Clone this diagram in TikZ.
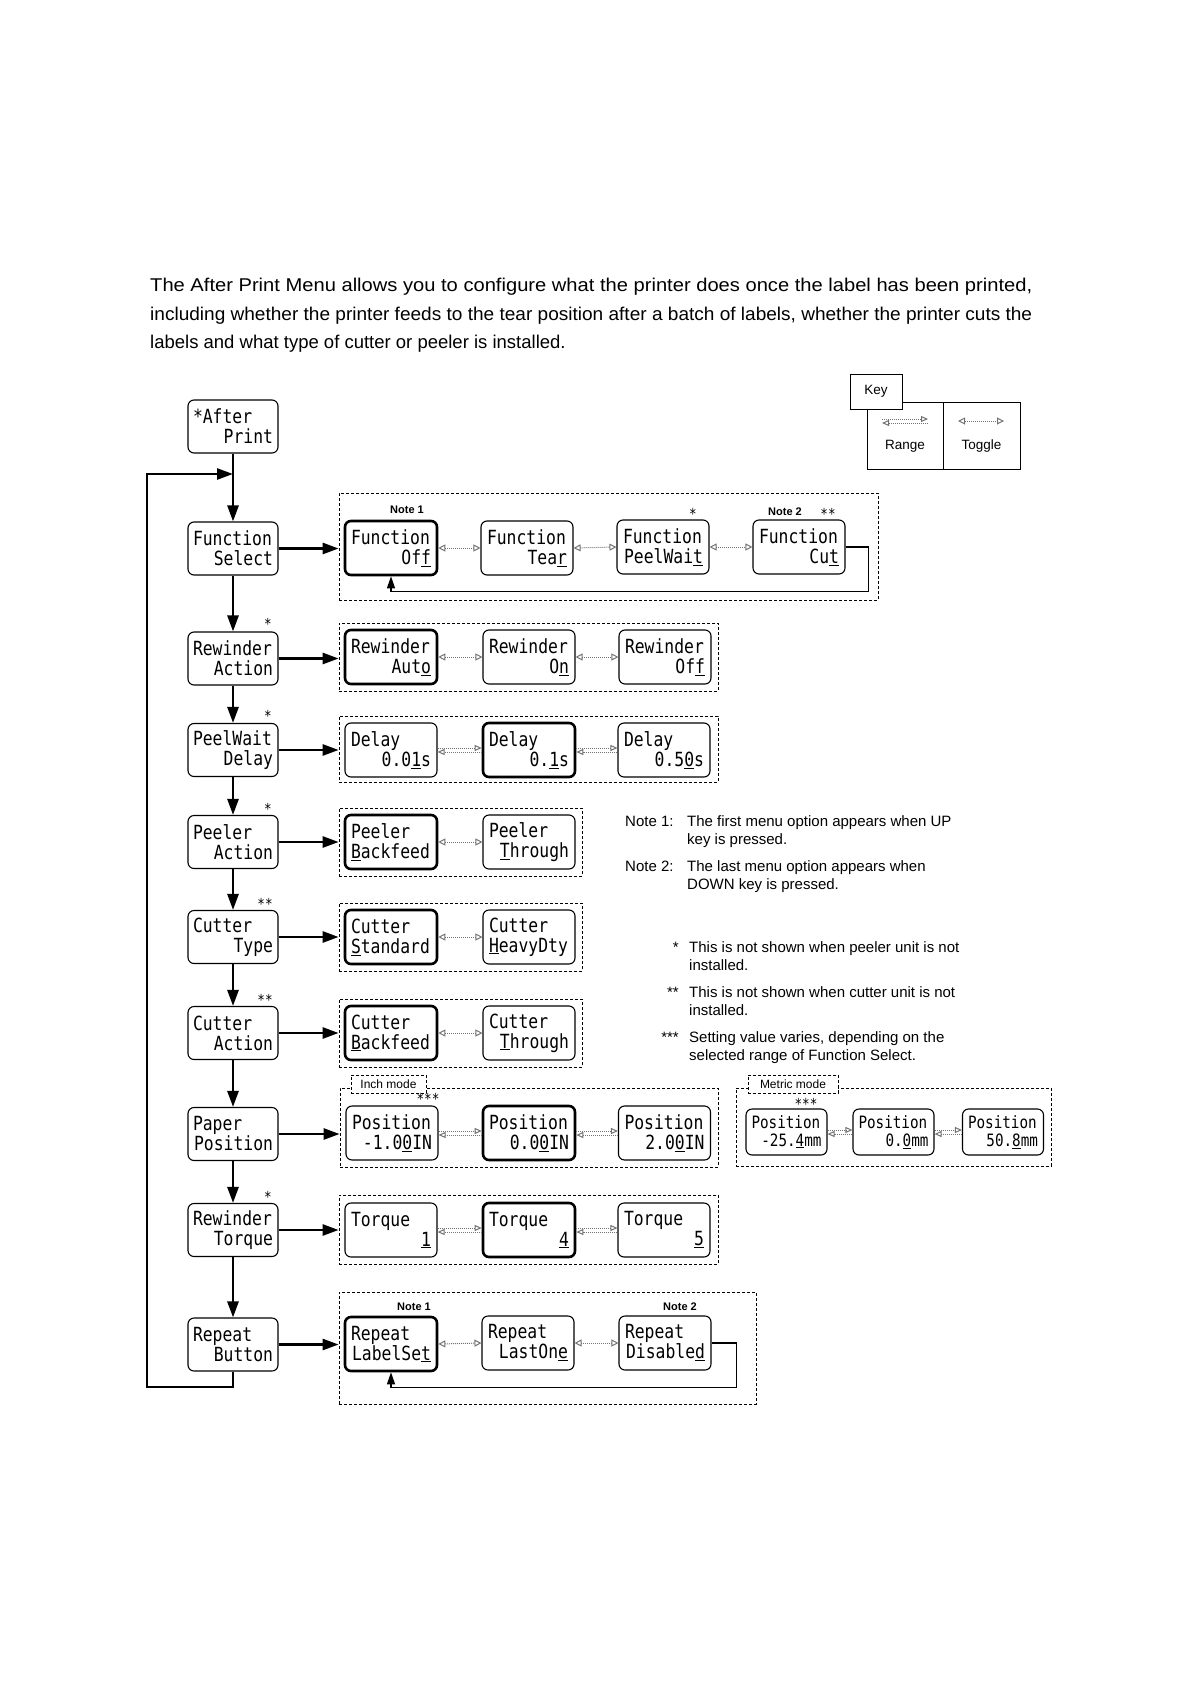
\documentclass[tikz,border=0pt]{standalone}
\usepackage{fontspec}
\setmainfont{Liberation Sans}
\newfontfamily\lcdfont[FakeStretch=0.84]{DejaVu Sans Mono}
\usepackage{graphicx}
\usetikzlibrary{arrows.meta,positioning,calc}

% two display lines: first flush left, second flush right
\newcommand{\lcd}[2]{#1\\\hspace*{0pt plus 1filll}#2}
% range connector: one way on top, the other way below
\newcommand{\rangelink}[2]{%
  \draw[rangeway] ([yshift=2pt]#1.east) -- ([yshift=2pt]#2.west);
  \draw[rangeway] ([yshift=-2pt]#2.west) -- ([yshift=-2pt]#1.east);}

\begin{document}
\begin{tikzpicture}[x=1pt, y=-1pt,
    menu/.style={rectangle, draw, rounded corners=6pt, line width=1.1pt, minimum width=90pt, minimum height=53pt, text width=80pt, inner xsep=5pt, inner ysep=2pt, align=left, font=\lcdfont\fontsize{19.5}{20}\selectfont},
    option/.style={menu, minimum width=92pt, minimum height=54pt, text width=80pt, inner xsep=6pt},
    current/.style={option, line width=2.6pt},
    metric/.style={option, minimum width=81pt, minimum height=46pt, text width=70pt, inner xsep=5.5pt, font=\lcdfont\fontsize{17}{17.5}\selectfont},
    group/.style={rectangle, draw, dash pattern=on 3pt off 2pt, line width=0.7pt, inner sep=0pt},
    modetab/.style={group, fill=white, minimum height=18pt, font=\fontsize{12}{14}\selectfont},
    flow/.style={-{Triangle[length=16pt,width=11pt]}, line width=2.6pt},
    back/.style={-{Triangle[length=12pt,width=8pt]}, line width=1.3pt},
    toggle/.style={{Triangle[open,length=7pt,width=7pt]}-{Triangle[open,length=7pt,width=7pt]}, draw=black!55, densely dotted, line width=1pt},
    rangeway/.style={-{Triangle[open,length=7pt,width=6pt]}, draw=black!55, densely dotted, line width=1pt},
    notelbl/.style={font=\bfseries\fontsize{11}{13}\selectfont, inner sep=0pt},
    starlbl/.style={font=\lcdfont\fontsize{15}{15}\selectfont, inner sep=0pt},
    body/.style={anchor=base west, inner sep=0pt, font=\fontsize{15}{18}\selectfont},
    keybox/.style={rectangle, draw, line width=1pt, inner sep=0pt}
]
    \useasboundingbox (0,0) rectangle (1191,1685);

    % Intro
    \node[anchor=base west, inner sep=0pt, font=\fontsize{18.5}{22}\selectfont] (intro1) at (150,291) {\resizebox{882pt}{\height}{The After Print Menu allows you to configure what the printer does once the label has been printed,}};
    \node[anchor=base west, inner sep=0pt, font=\fontsize{18.5}{22}\selectfont] (intro2) at (150,320) {\resizebox{882pt}{\height}{including whether the printer feeds to the tear position after a batch of labels, whether the printer cuts the}};
    \node[anchor=base west, inner sep=0pt, font=\fontsize{18.5}{22}\selectfont] (intro3) at (150,348) {labels and what type of cutter or peeler is installed.};

    % Key
    \node[keybox, minimum width=76pt, minimum height=67pt] (kRange) at (905,435.5) {};
    \node[keybox, minimum width=77pt, minimum height=67pt] (kToggle) at (981.5,435.5) {};
    \node[keybox, fill=white, minimum width=52pt, minimum height=35pt, font=\fontsize{13.5}{16}\selectfont] (kTab) at (876,391.5) {Key};
    \node[font=\fontsize{13.5}{16}\selectfont] (kRangeTxt) at (905,446) {Range};
    \node[font=\fontsize{13.5}{16}\selectfont] (kToggleTxt) at (981.5,446) {Toggle};
    \coordinate (kr1) at (882,421);
    \coordinate (kr2) at (928,421);
    \coordinate (kt1) at (958,421);
    \coordinate (kt2) at (1004,421);
    \draw[rangeway] ([yshift=2pt]kr1) -- ([yshift=2pt]kr2);
    \draw[rangeway] ([yshift=-2pt]kr2) -- ([yshift=-2pt]kr1);
    \draw[toggle] (kt1) -- (kt2);

    % Main menu column
    \node[menu] (mAfter) at (233,426.5) {\lcd{*After}{Print}};
    \node[menu] (mFunc) at (233,548.5) {\lcd{Function}{Select}};
    \node[menu] (mRewA) at (233,658.5) {\lcd{Rewinder}{Action}};
    \node[menu] (mPeelD) at (233,750) {\lcd{PeelWait}{Delay}};
    \node[menu] (mPeelA) at (233,842) {\lcd{Peeler}{Action}};
    \node[menu] (mCutT) at (233,937) {\lcd{Cutter}{Type}};
    \node[menu] (mCutA) at (233,1033) {\lcd{Cutter}{Action}};
    \node[menu] (mPaper) at (233,1134) {\lcd{Paper}{Position}};
    \node[menu] (mRewT) at (233,1230) {\lcd{Rewinder}{Torque}};
    \node[menu] (mRepeat) at (233,1344.5) {\lcd{Repeat}{Button}};

    \node[starlbl] (sRewA) at (268,624) {*};
    \node[starlbl] (sPeelD) at (268,716) {*};
    \node[starlbl] (sPeelA) at (268,809) {*};
    \node[starlbl] (sCutT) at (265,904) {**};
    \node[starlbl] (sCutA) at (265,1000) {**};
    \node[starlbl] (sRewT) at (268,1197) {*};

    % Dashed groups
    \node[group, minimum width=539pt, minimum height=107pt] (gF) at (608.5,546.5) {};
    \node[group, minimum width=379pt, minimum height=68pt] (gR) at (528.5,657) {};
    \node[group, minimum width=379pt, minimum height=66pt] (gD) at (528.5,749) {};
    \node[group, minimum width=243pt, minimum height=68pt] (gP) at (460.5,842) {};
    \node[group, minimum width=243pt, minimum height=68pt] (gCT) at (460.5,937) {};
    \node[group, minimum width=243pt, minimum height=68pt] (gCA) at (460.5,1033) {};
    \node[group, minimum width=378pt, minimum height=79pt] (gPI) at (529,1127.5) {};
    \node[group, minimum width=315pt, minimum height=78pt] (gPM) at (893.5,1127) {};
    \node[group, minimum width=379pt, minimum height=69pt] (gT) at (528.5,1229.5) {};
    \node[group, minimum width=417pt, minimum height=112pt] (gRep) at (547.5,1348) {};
    \node[modetab, minimum width=75pt] (tabI) at (388.5,1084) {Inch mode};
    \node[modetab, minimum width=90pt] (tabM) at (793,1084) {Metric mode};

    % Function Select
    \node[current] (fOff) at (391,548) {\lcd{Function}{Of\underline{f}}};
    \node[option] (fTear) at (527,548) {\lcd{Function}{Tea\underline{r}}};
    \node[option] (fPeel) at (663,547) {\lcd{Function}{PeelWai\underline{t}}};
    \node[option] (fCut) at (799,547) {\lcd{Function}{Cu\underline{t}}};
    \node[notelbl] (nF1) at (407,510) {Note 1};
    \node[starlbl] (sF3) at (693,514) {*};
    \node[notelbl] (nF2) at (785,512) {Note 2};
    \node[starlbl] (sF4) at (828,514) {**};

    % Rewinder Action
    \node[current] (rAuto) at (391,657) {\lcd{Rewinder}{Aut\underline{o}}};
    \node[option] (rOn) at (529,657) {\lcd{Rewinder}{O\underline{n}}};
    \node[option] (rOff) at (665,657) {\lcd{Rewinder}{Of\underline{f}}};

    % PeelWait Delay
    \node[option] (dA) at (391,750) {\lcd{Delay}{0.0\underline{1}s}};
    \node[current] (dB) at (529,750) {\lcd{Delay}{0.\underline{1}s}};
    \node[option] (dC) at (664,750) {\lcd{Delay}{0.5\underline{0}s}};

    % Peeler Action / Cutter Type / Cutter Action
    \node[current] (pBack) at (391,842) {Peeler\\\underline{B}ackfeed};
    \node[option] (pThru) at (529,842) {\lcd{Peeler}{\underline{T}hrough}};
    \node[current] (cStd) at (391,937) {Cutter\\\underline{S}tandard};
    \node[option] (cHvy) at (529,937) {Cutter\\\underline{H}eavyDty};
    \node[current] (caBack) at (391,1033) {Cutter\\\underline{B}ackfeed};
    \node[option] (caThru) at (529,1033) {\lcd{Cutter}{\underline{T}hrough}};

    % Paper Position
    \node[option] (pi1) at (392,1133) {\lcd{Position}{-1.0\underline{0}IN}};
    \node[current] (pi2) at (529,1133) {\lcd{Position}{0.0\underline{0}IN}};
    \node[option] (pi3) at (664.5,1133) {\lcd{Position}{2.0\underline{0}IN}};
    \node[starlbl] (sPI) at (428,1099) {***};
    \node[metric] (pm1) at (786.5,1132) {\lcd{Position}{-25.\underline{4}mm}};
    \node[metric] (pm2) at (893.5,1132) {\lcd{Position}{0.\underline{0}mm}};
    \node[metric] (pm3) at (1003,1132) {\lcd{Position}{50.\underline{8}mm}};
    \node[starlbl] (sPM) at (806,1104) {***};

    % Rewinder Torque
    \node[option] (t1) at (391,1230) {\lcd{Torque}{\underline{1}}};
    \node[current] (t2) at (529,1230) {\lcd{Torque}{\underline{4}}};
    \node[option] (t3) at (664,1230) {\lcd{Torque}{\underline{5}}};

    % Repeat Button
    \node[current] (rp1) at (391,1344) {\lcd{Repeat}{LabelSe\underline{t}}};
    \node[option] (rp2) at (528,1343) {\lcd{Repeat}{LastOn\underline{e}}};
    \node[option] (rp3) at (665,1343) {\lcd{Repeat}{Disable\underline{d}}};
    \node[notelbl] (nR1) at (414,1307) {Note 1};
    \node[notelbl] (nR2) at (680,1307) {Note 2};

    % Main flow arrows
    \foreach \a/\b in {mAfter/mFunc, mFunc/mRewA, mRewA/mPeelD, mPeelD/mPeelA, mPeelA/mCutT, mCutT/mCutA, mCutA/mPaper, mPaper/mRewT, mRewT/mRepeat}
        \draw[flow] (\a.south) -- (\b.north);
    \foreach \m/\g in {mFunc/gF, mRewA/gR, mPeelD/gD, mPeelA/gP, mCutT/gCT, mCutA/gCA, mPaper/gPI, mRewT/gT, mRepeat/gRep}
        \draw[flow] (\m.east) -- (\m.east -| \g.west);

    % Loop back to Function Select
    \coordinate (loopL) at (147,1387);
    \coordinate (loopIn) at (233,474);
    \draw[flow] (mRepeat.south) |- (loopL) |- (loopIn);

    % Wrap-around of the last option
    \draw[back] (fCut.east) -- ++(23,0) |- ([yshift=-15pt]fOff.south) -- (fOff.south);
    \draw[back] (rp3.east) -- ++(25,0) |- ([yshift=-15pt]rp1.south) -- (rp1.south);

    % Toggle and range connectors
    \foreach \a/\b in {fOff/fTear, fTear/fPeel, fPeel/fCut, rAuto/rOn, rOn/rOff, pBack/pThru, cStd/cHvy, caBack/caThru, rp1/rp2, rp2/rp3}
        \draw[toggle] (\a.east) -- (\b.west);
    \foreach \a/\b in {dA/dB, dB/dC, pi1/pi2, pi2/pi3, pm1/pm2, pm2/pm3, t1/t2, t2/t3}
        {\rangelink{\a}{\b}}

    % Notes
    \node[body] (n1a) at (625,826) {Note 1:};
    \node[body] (n1b) at (687,826) {The first menu option appears when UP};
    \node[body] (n1c) at (687,844) {key is pressed.};
    \node[body] (n2a) at (625,871) {Note 2:};
    \node[body] (n2b) at (687,871) {The last menu option appears when};
    \node[body] (n2c) at (687,889) {DOWN key is pressed.};
    \node[body, anchor=base east] (f1a) at (679,952) {*};
    \node[body] (f1b) at (689,952) {This is not shown when peeler unit is not};
    \node[body] (f1c) at (689,970) {installed.};
    \node[body, anchor=base east] (f2a) at (679,997) {**};
    \node[body] (f2b) at (689,997) {This is not shown when cutter unit is not};
    \node[body] (f2c) at (689,1015) {installed.};
    \node[body, anchor=base east] (f3a) at (679,1042) {***};
    \node[body] (f3b) at (689,1042) {Setting value varies, depending on the};
    \node[body] (f3c) at (689,1060) {selected range of Function Select.};
\end{tikzpicture}
\end{document}
